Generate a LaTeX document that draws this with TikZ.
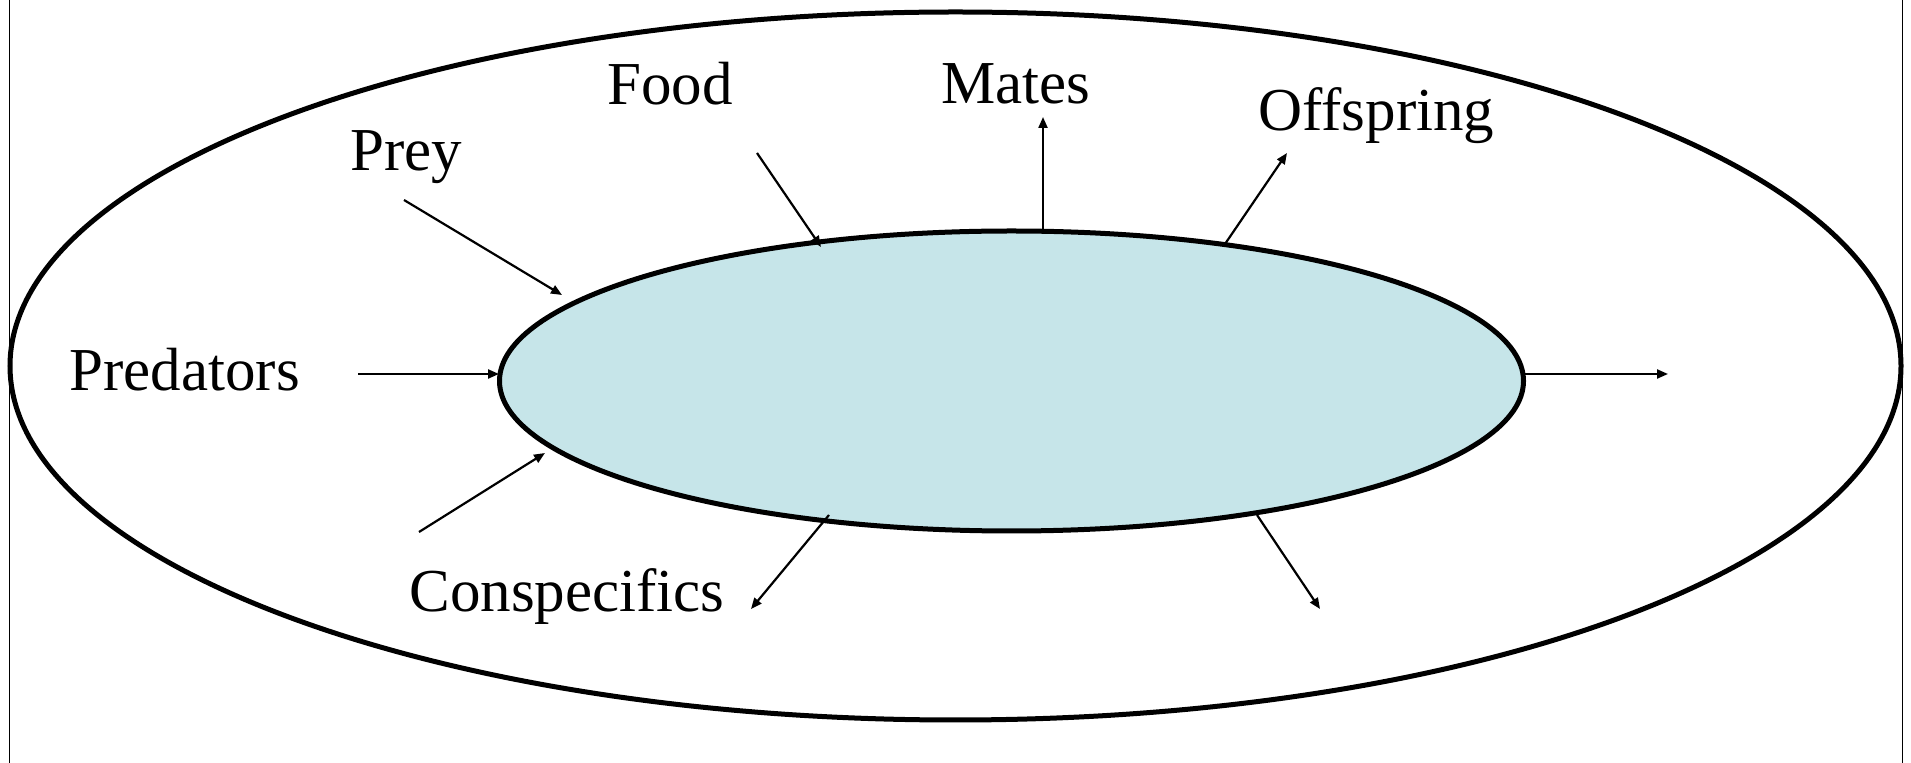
\documentclass[tikz,border=0pt]{standalone}
\usepackage{fontspec}
\setmainfont{Liberation Serif}
\usetikzlibrary{shapes.geometric,arrows.meta}
\definecolor{cellblue}{RGB}{198,229,233}
\begin{document}
\begin{tikzpicture}[x=0.5pt,y=-0.5pt,
  lbl/.style={anchor=base west,inner sep=0pt,font=\fontsize{30.5pt}{36pt}\selectfont},
  arr/.style={line width=1.1pt,-{Triangle[length=5.5pt,width=4.5pt]}},
  frameline/.style={line width=0.5pt}]
\useasboundingbox (0,0) rectangle (1911,763);
\coordinate (fl1) at (9,0); \coordinate (fl2) at (9,763);
\coordinate (fr1) at (1902,0); \coordinate (fr2) at (1902,763);
\draw[frameline] (fl1) -- (fl2);
\draw[frameline] (fr1) -- (fr2);
\node[ellipse,draw,line width=2.5pt,inner sep=0pt,minimum width=945.5pt,minimum height=354pt] (outer) at (955.5,366) {};
\node[ellipse,draw,fill=cellblue,line width=2.5pt,inner sep=0pt,minimum width=512pt,minimum height=150pt] (cell) at (1011.5,381) {};
% labels
\node[lbl] (predators) at (69,391) {Predators};
\node[lbl] (prey) at (350,171) {Prey};
\node[lbl] (food) at (607,105) {Food};
\node[lbl] (mates) at (941,104) {Mates};
\node[lbl] (offspring) at (1258,131) {Offspring};
\node[lbl] (consp) at (409,612) {Conspecifics};
% arrow end points
\coordinate (a1s) at (358,374); \coordinate (a1e) at (499,374);
\coordinate (a2s) at (404,200); \coordinate (a2e) at (562,295);
\coordinate (a3s) at (757,153); \coordinate (a3e) at (821,247);
\coordinate (a4s) at (1043,230); \coordinate (a4e) at (1043,117);
\coordinate (a5s) at (1225,244); \coordinate (a5e) at (1287,153);
\coordinate (a6s) at (419,532); \coordinate (a6e) at (545,453);
\coordinate (a7s) at (829,515); \coordinate (a7e) at (751,609);
\coordinate (a8s) at (1257,515); \coordinate (a8e) at (1320,609);
\coordinate (a9s) at (1525,374); \coordinate (a9e) at (1668,374);
\draw[arr] (a1s) -- (a1e);
\draw[arr] (a2s) -- (a2e);
\draw[arr] (a3s) -- (a3e);
\draw[arr] (a4s) -- (a4e);
\draw[arr] (a5s) -- (a5e);
\draw[arr] (a6s) -- (a6e);
\draw[arr] (a7s) -- (a7e);
\draw[arr] (a8s) -- (a8e);
\draw[arr] (a9s) -- (a9e);
\end{tikzpicture}
\end{document}
